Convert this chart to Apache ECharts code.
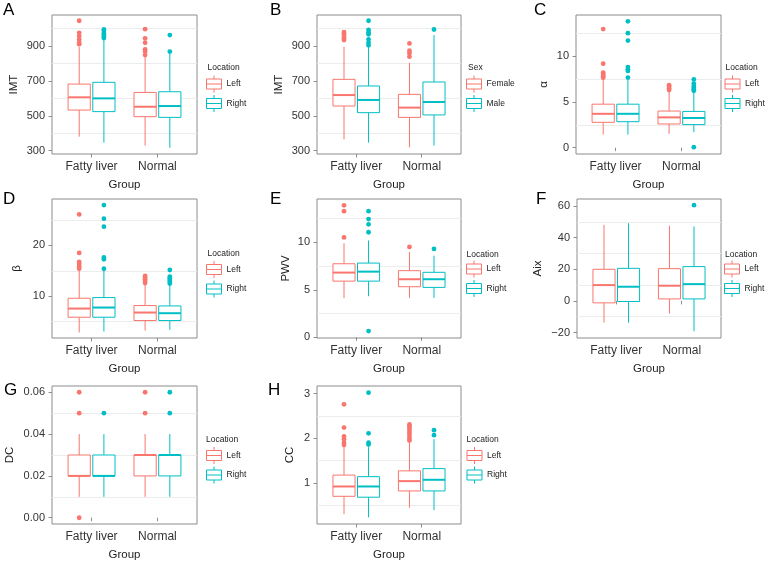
<!DOCTYPE html>
<html><head><meta charset="utf-8">
<script src="https://cdn.jsdelivr.net/npm/echarts@6/dist/echarts.min.js"></script>
<style>html,body{margin:0;padding:0;background:#fff}#c{width:770px;height:565px}</style>
</head><body><div id="c"></div>
<script>
// ---------- data ----------
const categories = ['Fatty liver', 'Normal'];
// each box: [lowerWhisker, Q1, median, Q3, upperWhisker], one per category
const A_Left = [[380, 533, 606, 682, 896], [329, 495, 552, 634, 839]];
const A_Right = [[346, 524, 600, 692, 938], [317, 491, 556, 638, 858]];
const A_LeftOut = [[1045, 976, 957, 938, 919, 911], [997, 944, 919, 881, 868, 848]];
const A_RightOut = [[995, 988, 973, 963, 953, 946], [963, 868]];

const B_Female = [[365, 556, 619, 709, 896], [319, 491, 547, 623, 804]];
const B_Male = [[346, 518, 591, 671, 900], [329, 505, 579, 694, 963]];
const B_FemaleOut = [[980, 973, 963, 953, 944, 934], [915, 873, 858, 839]];
const B_MaleOut = [[1045, 992, 978, 967, 938, 919, 904], [995]];

const C_Left = [[1.44, 2.77, 3.7, 4.75, 7.45], [1.51, 2.59, 3.31, 4.0, 6.19]];
const C_Right = [[1.44, 2.84, 3.7, 4.75, 7.45], [1.69, 2.52, 3.24, 3.96, 6.12]];
const C_LeftOut = [[12.95, 9.17, 8.2, 8.0, 7.8, 7.65], [6.83, 6.65, 6.47, 6.3]];
const C_RightOut = [[13.8, 12.5, 11.7, 8.8, 8.56, 8.38, 7.66], [7.45, 7.0, 6.73, 6.55, 6.37, 6.22, 0.05]];

const D_Left = [[2.88, 5.88, 7.58, 9.61, 15.2], [3.27, 5.23, 6.8, 8.17, 12.3]];
const D_Right = [[3.07, 5.88, 7.78, 9.74, 15.0], [3.4, 5.23, 6.67, 8.1, 12.2]];
const D_LeftOut = [[26.08, 18.5, 16.73, 16.34, 15.82, 15.42], [13.99, 13.66, 13.33, 13.0, 12.6]];
const D_RightOut = [[27.9, 25.23, 23.66, 17.65, 17.25, 15.4], [15.16, 13.86, 13.53, 13.2, 12.88, 12.5]];

const E_Left = [[4.12, 5.92, 6.82, 7.75, 9.9], [4.15, 5.33, 6.12, 7.02, 9.0]];
const E_Right = [[4.33, 5.92, 6.92, 7.82, 10.2], [4.15, 5.26, 6.12, 6.85, 8.6]];
const E_LeftOut = [[13.9, 13.29, 10.52], [9.52]];
const E_RightOut = [[13.29, 12.46, 11.9, 11.07, 0.66], [9.31]];

const F_Left = [[-13.75, -1.25, 10, 20, 48.1], [-8.1, 1.25, 9.6, 20.4, 47.5]];
const F_Right = [[-13.75, -0.4, 8.96, 20.6, 49.2], [-19.2, 1.25, 10.6, 21.7, 47.1]];
const F_LeftOut = [[], []];
const F_RightOut = [[], [60.6]];

const G_Left = [[0.01, 0.02, 0.02, 0.03, 0.04], [0.01, 0.02, 0.03, 0.03, 0.04]];
const G_Right = [[0.01, 0.02, 0.02, 0.03, 0.04], [0.01, 0.02, 0.03, 0.03, 0.04]];
const G_LeftOut = [[0.06, 0.05, 0.0], [0.06, 0.05]];
const G_RightOut = [[0.05], [0.06, 0.05]];

const H_Left = [[0.30, 0.70, 0.92, 1.175, 1.82], [0.445, 0.82, 1.04, 1.27, 1.9]];
const H_Right = [[0.23, 0.68, 0.92, 1.14, 1.8], [0.39, 0.82, 1.07, 1.32, 1.98]];
const H_LeftOut = [[2.76, 2.24, 2.04, 1.98, 1.9, 1.85], [2.31, 2.27, 2.22, 2.16, 2.11, 2.05, 1.99, 1.95]];
const H_RightOut = [[3.02, 2.11, 1.9, 1.86], [2.18, 2.07]];

// tick labels (major) and light grid lines (minor)
const A_ticks = [300, 500, 700, 900], A_grid = [400, 600, 800, 1000];
const B_ticks = [300, 500, 700, 900], B_grid = [400, 600, 800, 1000];
const C_ticks = [0, 5, 10], C_grid = [2.5, 7.5, 12.5];
const D_ticks = [10, 20], D_grid = [5, 15, 25];
const E_ticks = [0, 5, 10], E_grid = [2.5, 7.5, 12.5];
const F_ticks = [-20, 0, 20, 40, 60], F_grid = [-10, 10, 30, 50];
const G_ticks = [0, 0.02, 0.04, 0.06], G_grid = [0.01, 0.03, 0.05];
const H_ticks = [1, 2, 3], H_grid = [0.5, 1.5, 2.5];

// ---------- layout / style ----------
const COLORS = ['#F8766D', '#00BFC4'];
const FONT = 'Liberation Sans, Arial, Helvetica, sans-serif';
const DODGE = 0.1875, BOX_W = 0.3375;

const panels = [
  {letter: 'A', yname: 'IMT', groups: ['Left', 'Right'], gtitle: 'Location', boxes: [A_Left, A_Right], outs: [A_LeftOut, A_RightOut], ticks: A_ticks, grid: A_grid, range: [281, 1078], dec: 0,
   g: {left: 52, top: 15, width: 145, height: 139}, nameGap: 32, lx: 3, ly: 2, legX: 206, legY: 75, titX: 207.5, titY: 63},
  {letter: 'B', yname: 'IMT', groups: ['Female', 'Male'], gtitle: 'Sex', boxes: [B_Female, B_Male], outs: [B_FemaleOut, B_MaleOut], ticks: B_ticks, grid: B_grid, range: [281, 1078], dec: 0,
   g: {left: 317, top: 15, width: 144, height: 139}, nameGap: 32, lx: 270, ly: 2, legX: 466, legY: 75, titX: 468, titY: 63},
  {letter: 'C', yname: 'α', groups: ['Left', 'Right'], gtitle: 'Location', boxes: [C_Left, C_Right], outs: [C_LeftOut, C_RightOut], ticks: C_ticks, grid: C_grid, range: [-0.69, 14.49], dec: 0,
   g: {left: 576, top: 15, width: 145, height: 139}, nameGap: 26, lx: 534, ly: 2, legX: 724.5, legY: 75, titX: 725.5, titY: 63},
  {letter: 'D', yname: 'β', groups: ['Left', 'Right'], gtitle: 'Location', boxes: [D_Left, D_Right], outs: [D_LeftOut, D_RightOut], ticks: D_ticks, grid: D_grid, range: [1.8, 29.1], dec: 0,
   g: {left: 52, top: 199, width: 145, height: 139}, nameGap: 29, lx: 3, ly: 191, legX: 206, legY: 260.5, titX: 207.5, titY: 249},
  {letter: 'E', yname: 'PWV', groups: ['Left', 'Right'], gtitle: 'Location', boxes: [E_Left, E_Right], outs: [E_LeftOut, E_RightOut], ticks: E_ticks, grid: E_grid, range: [-0.07, 14.57], dec: 0,
   g: {left: 317, top: 199, width: 144, height: 139}, nameGap: 25, lx: 270, ly: 191, legX: 466, legY: 260, titX: 466.5, titY: 250},
  {letter: 'F', yname: 'Aix', groups: ['Left', 'Right'], gtitle: 'Location', boxes: [F_Left, F_Right], outs: [F_LeftOut, F_RightOut], ticks: F_ticks, grid: F_grid, range: [-23.5, 64.5], dec: 0,
   g: {left: 577, top: 199, width: 144, height: 139}, nameGap: 33, lx: 536, ly: 191, legX: 724, legY: 260, titX: 725, titY: 250},
  {letter: 'G', yname: 'DC', groups: ['Left', 'Right'], gtitle: 'Location', boxes: [G_Left, G_Right], outs: [G_LeftOut, G_RightOut], ticks: G_ticks, grid: G_grid, range: [-0.003, 0.063], dec: 2,
   g: {left: 52, top: 386, width: 145, height: 138}, nameGap: 36, lx: 4, ly: 382, legX: 206, legY: 446.5, titX: 206, titY: 435.5},
  {letter: 'H', yname: 'CC', groups: ['Left', 'Right'], gtitle: 'Location', boxes: [H_Left, H_Right], outs: [H_LeftOut, H_RightOut], ticks: H_ticks, grid: H_grid, range: [0.08, 3.17], dec: 0,
   g: {left: 317, top: 386, width: 144, height: 138}, nameGap: 21, lx: 268, ly: 382, legX: 466.5, legY: 446.5, titX: 466.5, titY: 435.5}
];

function renderBox(params, api) {
  const x = api.value(0);
  const lo = api.coord([x, api.value(1)]);
  const q1 = api.coord([x, api.value(2)]);
  const md = api.coord([x, api.value(3)]);
  const q3 = api.coord([x, api.value(4)]);
  const hi = api.coord([x, api.value(5)]);
  const hw = api.size([BOX_W, 0])[0] / 2;
  const color = api.visual('color');
  const xc = lo[0];
  return {type: 'group', children: [
    {type: 'line', shape: {x1: xc, y1: hi[1], x2: xc, y2: q3[1]}, style: {stroke: color, lineWidth: 1}},
    {type: 'line', shape: {x1: xc, y1: q1[1], x2: xc, y2: lo[1]}, style: {stroke: color, lineWidth: 1}},
    {type: 'rect', shape: {x: xc - hw, y: q3[1], width: 2 * hw, height: q1[1] - q3[1]}, style: {fill: '#fff', stroke: color, lineWidth: 1}},
    {type: 'line', shape: {x1: xc - hw, y1: md[1], x2: xc + hw, y2: md[1]}, style: {stroke: color, lineWidth: 2}}
  ]};
}

const KEY_ICON = 'path://M8,0L8,3.5M0.5,3.5L15.5,3.5L15.5,13.5L0.5,13.5ZM0.5,8.5L15.5,8.5M8,13.5L8,17';

const option = {animation: false, backgroundColor: '#fff', grid: [], xAxis: [], yAxis: [], series: [], title: [], legend: []};

panels.forEach((p, i) => {
  option.grid.push(Object.assign({show: true, borderColor: '#8c8c8c', borderWidth: 1, backgroundColor: '#fff', containLabel: false}, p.g));
  option.xAxis.push({
    gridIndex: i, type: 'value', min: 0.4, max: 2.6,
    name: 'Group', nameLocation: 'middle', nameGap: 25,
    nameTextStyle: {fontFamily: FONT, fontSize: 11.5, color: '#222'},
    axisLine: {show: false}, splitLine: {show: false},
    axisTick: {show: true, length: 3.5, lineStyle: {color: '#8c8c8c'}, customValues: [1, 2]},
    axisLabel: {margin: 7, fontFamily: FONT, fontSize: 12, color: '#333', customValues: [1, 2],
      formatter: v => categories[Math.round(v) - 1] || ''}
  });
  option.yAxis.push({
    gridIndex: i, type: 'value', min: p.range[0], max: p.range[1],
    name: p.yname, nameLocation: 'middle', nameGap: p.nameGap,
    nameTextStyle: {fontFamily: FONT, fontSize: 11.5, color: '#222'},
    axisLine: {show: false}, splitLine: {show: false},
    axisTick: {show: true, length: 3.5, lineStyle: {color: '#8c8c8c'}, customValues: p.ticks},
    axisLabel: {margin: 7, fontFamily: FONT, fontSize: 11, color: '#333', customValues: p.ticks,
      formatter: v => (v < 0 ? '\u2212' : '') + Math.abs(v).toFixed(p.dec)}
  });
  // light grid lines
  option.series.push({
    type: 'line', xAxisIndex: i, yAxisIndex: i, data: [], z: 1, silent: true,
    markLine: {silent: true, z: 1, symbol: 'none', label: {show: false}, animation: false,
      lineStyle: {color: '#ececec', width: 1, type: 'solid'},
      emphasis: {disabled: true},
      data: p.grid.map(v => ({yAxis: v}))}
  });
  p.groups.forEach((gname, gi) => {
    const off = gi === 0 ? -DODGE : DODGE;
    option.series.push({
      type: 'custom', name: gname, xAxisIndex: i, yAxisIndex: i, z: 2,
      itemStyle: {color: COLORS[gi]},
      renderItem: renderBox,
      encode: {x: 0, y: [1, 2, 3, 4, 5]},
      data: p.boxes[gi].map((b, ci) => [ci + 1 + off].concat(b))
    });
    const pts = [];
    p.outs[gi].forEach((arr, ci) => arr.forEach(v => pts.push([ci + 1 + off, v])));
    option.series.push({
      type: 'scatter', name: gname, xAxisIndex: i, yAxisIndex: i, z: 3,
      symbolSize: 4.8, itemStyle: {color: COLORS[gi], opacity: 1},
      data: pts
    });
  });
  option.title.push({text: p.letter, left: p.lx, top: p.ly, padding: 0,
    textStyle: {fontFamily: FONT, fontSize: 17, fontWeight: 'normal', color: '#000'}});
  option.title.push({text: p.gtitle, left: p.titX, top: p.titY, padding: 0,
    textStyle: {fontFamily: FONT, fontSize: 8.5, fontWeight: 'normal', color: '#222'}});
  option.legend.push({
    left: p.legX, top: p.legY, orient: 'vertical', padding: 0, itemGap: 1.5,
    itemWidth: 15, itemHeight: 17, selectedMode: false, icon: KEY_ICON,
    textStyle: {fontFamily: FONT, fontSize: 8.5, color: '#222'},
    data: p.groups.map((gname, gi) => ({name: gname, icon: KEY_ICON,
      itemStyle: {color: '#fff', borderColor: COLORS[gi], borderWidth: 1}}))
  });
});

const chart = echarts.init(document.getElementById('c'), null, {renderer: 'canvas'});
chart.setOption(option);
</script>
</body></html>
